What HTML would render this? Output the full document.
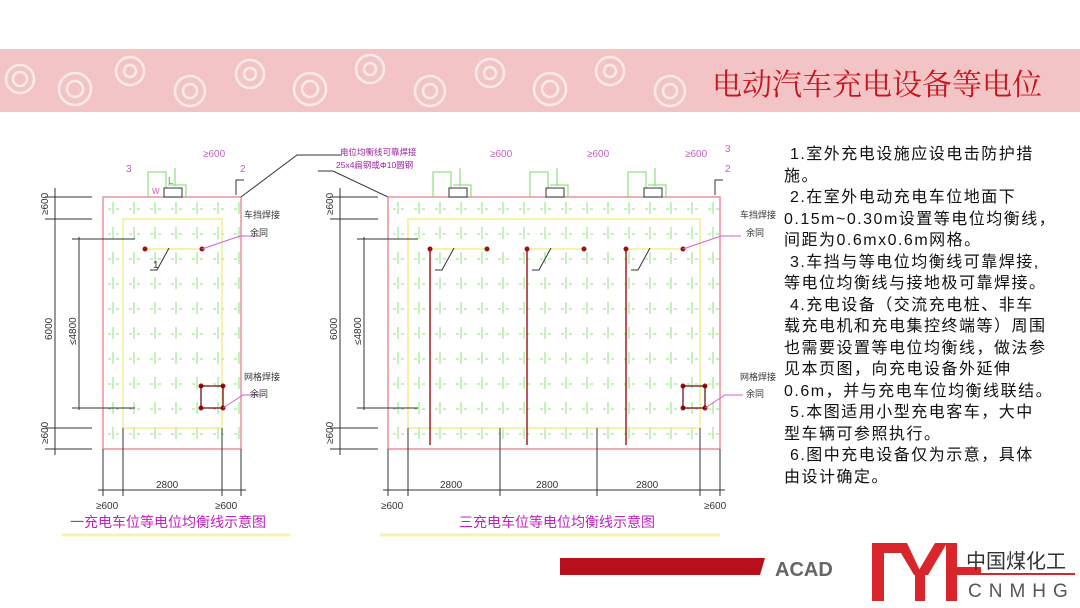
<!DOCTYPE html>
<html><head><meta charset="utf-8"><style>
body{margin:0;width:1080px;height:608px;overflow:hidden;background:#fff;font-family:"Liberation Sans","Noto Sans CJK SC",sans-serif}
.band{position:absolute;left:0;top:49px;width:1080px;height:63px;background:#f2c4c6}
.title{position:absolute;right:38px;top:60px;font-size:30px;color:#c8141c;font-family:"Liberation Serif","Noto Serif CJK SC",serif}
.notes{position:absolute;left:784px;top:144px;white-space:nowrap;font-size:16px;letter-spacing:1.5px;line-height:21.5px;color:#111}
</style></head><body>
<div class="band">
<svg width="1080" height="63">
<g fill="none" stroke="#fbeaea" stroke-width="2.5">
<circle cx="20" cy="30" r="14"/><circle cx="20" cy="30" r="7"/>
<circle cx="75" cy="40" r="16"/><circle cx="75" cy="40" r="8"/>
<circle cx="130" cy="22" r="14"/><circle cx="130" cy="22" r="6"/>
<circle cx="190" cy="42" r="15"/><circle cx="190" cy="42" r="7"/>
<circle cx="250" cy="25" r="14"/><circle cx="250" cy="25" r="6"/>
<circle cx="310" cy="40" r="16"/><circle cx="310" cy="40" r="8"/>
<circle cx="370" cy="20" r="14"/><circle cx="370" cy="20" r="6"/>
<circle cx="430" cy="42" r="15"/><circle cx="430" cy="42" r="7"/>
<circle cx="490" cy="24" r="14"/><circle cx="490" cy="24" r="6"/>
<circle cx="550" cy="40" r="16"/><circle cx="550" cy="40" r="8"/>
<circle cx="610" cy="22" r="14"/><circle cx="610" cy="22" r="6"/>
<circle cx="670" cy="42" r="15"/><circle cx="670" cy="42" r="7"/>
</g></svg></div>
<div class="title">电动汽车充电设备等电位</div>
<svg style="position:absolute;left:0;top:0" width="1080" height="608" font-family="Liberation Sans,Noto Sans CJK SC,sans-serif">
<defs>
<pattern id="g" width="21" height="25" patternUnits="userSpaceOnUse" x="103" y="197">
<path d="M10 5v12M5 12h3M13 12h3" stroke="#8ee07e" stroke-width="1" fill="none"/>
</pattern>
<pattern id="g2" width="21" height="25" patternUnits="userSpaceOnUse" x="388" y="197">
<path d="M10 5v12M5 12h3M13 12h3" stroke="#8ee07e" stroke-width="1" fill="none"/>
</pattern>
</defs>
<rect x="103" y="197" width="138" height="252" fill="url(#g)" stroke="#e6808c" stroke-width="1.3"/>
<rect x="123" y="219" width="99" height="209" fill="none" stroke="#f0ee90" stroke-width="1.5"/>
<line x1="145" y1="249" x2="202" y2="249" stroke="#f0ee90" stroke-width="1.5"/>
<g fill="#a01010"><circle cx="145" cy="249" r="2.5"/><circle cx="202" cy="249" r="2.5"/>
<circle cx="201" cy="386" r="2.5"/><circle cx="223" cy="386" r="2.5"/><circle cx="201" cy="408" r="2.5"/><circle cx="223" cy="408" r="2.5"/></g>
<rect x="201" y="386" width="22" height="22" fill="none" stroke="#600" stroke-width="1.2"/>
<g stroke="#333" stroke-width="1" fill="none">
<line x1="55" y1="188" x2="55" y2="455"/><line x1="45" y1="197" x2="92" y2="197"/><line x1="45" y1="219" x2="92" y2="219"/>
<line x1="45" y1="428" x2="92" y2="428"/><line x1="45" y1="449" x2="92" y2="449"/>
<line x1="79" y1="237" x2="79" y2="410"/><line x1="72" y1="239" x2="135" y2="239"/><line x1="72" y1="408" x2="135" y2="408"/>
<line x1="98" y1="490" x2="246" y2="490"/>
<line x1="103" y1="449" x2="103" y2="496"/><line x1="123" y1="428" x2="123" y2="496"/><line x1="222" y1="428" x2="222" y2="496"/><line x1="241" y1="449" x2="241" y2="496"/>
<path d="M150 270h7l12-22"/><path d="M236 195v-15h8"/>
<path d="M241 197l56-42h45"/>
</g>
<path d="M202 249l38-13h20M223 408l20-13h18" stroke="#d060d0" fill="none"/>
<g fill="none" stroke="#7ad86a"><path d="M148 197v-25h18v25M168 185h18v12M175 168v18"/></g>
<rect x="164" y="188" width="18" height="9" fill="#fff" stroke="#333"/>
<g font-size="10" fill="#333">
<text x="48" y="215" transform="rotate(-90 48 215)">≥600</text>
<text x="48" y="444" transform="rotate(-90 48 444)">≥600</text>
<text x="52" y="340" transform="rotate(-90 52 340)">6000</text>
<text x="76" y="345" transform="rotate(-90 76 345)">≤4800</text>
<text x="156" y="488">2800</text><text x="96" y="509">≥600</text><text x="215" y="509">≥600</text>
<text x="153" y="268">1</text>
</g>
<g font-size="10" fill="#c060c0"><text x="203" y="157">≥600</text><text x="126" y="172">3</text><text x="240" y="172">2</text><text x="152" y="194" font-size="8">W</text><text x="168" y="184">L</text></g>
<g font-size="9" fill="#333"><text x="244" y="218">车挡焊接</text><text x="250" y="236">余同</text><text x="244" y="380">网格焊接</text><text x="250" y="397">余同</text></g>
<text x="70" y="527" font-size="14" fill="#c020c0">一充电车位等电位均衡线示意图</text>
<line x1="62" y1="535" x2="290" y2="535" stroke="#f6f2b0" stroke-width="3"/>
<text x="340" y="155" font-size="8.5" fill="#a020a0">电位均衡线可靠焊接</text>
<text x="336" y="168" font-size="8.5" fill="#a020a0">25x4扁钢或Φ10圆钢</text>
<path d="M388 197l-55-26h-15" stroke="#333" fill="none"/>
<rect x="388" y="197" width="332" height="252" fill="url(#g2)" stroke="#e6808c" stroke-width="1.3"/>
<rect x="408" y="219" width="292" height="209" fill="none" stroke="#f0ee90" stroke-width="1.5"/>
<g stroke="#f0ee90" stroke-width="1.5"><line x1="430" y1="249" x2="487" y2="249"/><line x1="527" y1="249" x2="584" y2="249"/><line x1="626" y1="249" x2="683" y2="249"/></g>
<g stroke="#a02020" stroke-width="1.5"><line x1="430" y1="249" x2="430" y2="445"/><line x1="527" y1="249" x2="527" y2="445"/><line x1="626" y1="249" x2="626" y2="445"/></g>
<g fill="#a01010"><circle cx="430" cy="249" r="2.5"/><circle cx="487" cy="249" r="2.5"/><circle cx="527" cy="249" r="2.5"/><circle cx="584" cy="249" r="2.5"/><circle cx="626" cy="249" r="2.5"/><circle cx="683" cy="249" r="2.5"/>
<circle cx="683" cy="386" r="2.5"/><circle cx="705" cy="386" r="2.5"/><circle cx="683" cy="408" r="2.5"/><circle cx="705" cy="408" r="2.5"/></g>
<rect x="683" y="386" width="22" height="22" fill="none" stroke="#600" stroke-width="1.2"/>
<g stroke="#333" stroke-width="1" fill="none">
<line x1="340" y1="188" x2="340" y2="455"/><line x1="330" y1="197" x2="378" y2="197"/><line x1="330" y1="219" x2="378" y2="219"/>
<line x1="330" y1="428" x2="378" y2="428"/><line x1="330" y1="449" x2="378" y2="449"/>
<line x1="364" y1="237" x2="364" y2="410"/><line x1="357" y1="239" x2="418" y2="239"/><line x1="357" y1="408" x2="418" y2="408"/>
<line x1="383" y1="490" x2="725" y2="490"/>
<line x1="388" y1="449" x2="388" y2="496"/><line x1="408" y1="428" x2="408" y2="496"/><line x1="500" y1="428" x2="500" y2="496"/><line x1="597" y1="428" x2="597" y2="496"/><line x1="700" y1="428" x2="700" y2="496"/><line x1="720" y1="449" x2="720" y2="496"/>
<path d="M435 270h7l12-22M532 270h7l12-22M631 270h7l12-22"/><path d="M715 195v-15h8"/>
</g>
<path d="M683 249l38-13h20M705 408l20-13h18" stroke="#d060d0" fill="none"/>
<g fill="none" stroke="#7ad86a"><path d="M433 197v-25h18v25M453 185h18v12M460 168v18M530 197v-25h18v25M550 185h18v12M557 168v18M628 197v-25h18v25M648 185h18v12M655 168v18"/></g>
<g fill="#fff" stroke="#333"><rect x="449" y="188" width="18" height="9"/><rect x="546" y="188" width="18" height="9"/><rect x="644" y="188" width="18" height="9"/></g>
<g font-size="10" fill="#333">
<text x="333" y="215" transform="rotate(-90 333 215)">≥600</text>
<text x="333" y="444" transform="rotate(-90 333 444)">≥600</text>
<text x="337" y="340" transform="rotate(-90 337 340)">6000</text>
<text x="361" y="345" transform="rotate(-90 361 345)">≤4800</text>
<text x="440" y="488">2800</text><text x="536" y="488">2800</text><text x="636" y="488">2800</text>
<text x="381" y="509">≥600</text><text x="704" y="509">≥600</text>
</g>
<g font-size="10" fill="#c060c0"><text x="490" y="157">≥600</text><text x="587" y="157">≥600</text><text x="685" y="157">≥600</text><text x="725" y="152">3</text><text x="725" y="172">2</text></g>
<g font-size="9" fill="#333"><text x="740" y="218">车挡焊接</text><text x="746" y="236">余同</text><text x="740" y="380">网格焊接</text><text x="746" y="397">余同</text></g>
<text x="459" y="527" font-size="14" fill="#c020c0">三充电车位等电位均衡线示意图</text>
<line x1="380" y1="535" x2="720" y2="535" stroke="#f6f2b0" stroke-width="3"/>
<polygon points="560,558 765,558 760,575 560,575" fill="#b8101a"/>
<text x="775" y="576" font-size="20" font-weight="bold" fill="#666">ACAD</text>
<g fill="#d8262c"><rect x="872" y="543" width="12" height="58"/><rect x="872" y="543" width="30" height="10"/><polygon points="895,543 907,543 922,575 914,575"/><polygon points="935,543 947,543 928,575 916,575"/><rect x="915" y="570" width="10" height="31"/><rect x="946" y="543" width="11" height="58"/><rect x="946" y="567" width="35" height="8"/></g>
<text x="966" y="568" font-size="20" fill="#333">中国煤化工</text>
<line x1="966" y1="574" x2="1075" y2="574" stroke="#d8262c" stroke-width="2"/>
<text x="968" y="597" font-size="19" fill="#555" letter-spacing="7">CNMHG</text>
</svg>
<div class="notes">&nbsp;1.室外充电设施应设电击防护措<br>施。<br>&nbsp;2.在室外电动充电车位地面下<br>0.15m~0.30m设置等电位均衡线，<br>间距为0.6mx0.6m网格。<br>&nbsp;3.车挡与等电位均衡线可靠焊接,<br>等电位均衡线与接地极可靠焊接。<br>&nbsp;4.充电设备（交流充电桩、非车<br>载充电机和充电集控终端等）周围<br>也需要设置等电位均衡线，做法参<br>见本页图，向充电设备外延伸<br>0.6m，并与充电车位均衡线联结。<br>&nbsp;5.本图适用小型充电客车，大中<br>型车辆可参照执行。<br>&nbsp;6.图中充电设备仅为示意，具体<br>由设计确定。</div>
</body></html>
